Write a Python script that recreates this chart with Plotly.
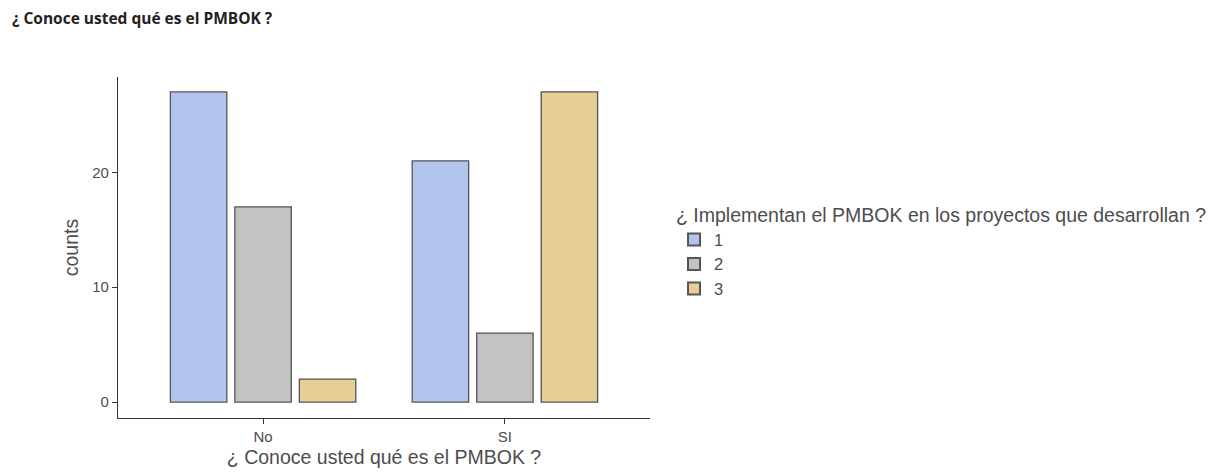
import plotly.graph_objects as go

categories = ["No", "SI"]
groups = ["1", "2", "3"]
counts_1 = [27, 21]
counts_2 = [17, 6]
counts_3 = [2, 27]
colors = ["#B0C4EE", "#C3C3C3", "#E6CE94"]

W, H = 1213, 468
PL, PR, PT, PB = 110, 642, 69, 410  # plot area edges in figure pixels

fig = go.Figure()
for name, vals, col in zip(groups, [counts_1, counts_2, counts_3], colors):
    fig.add_trace(go.Bar(
        x=categories, y=vals, name=name,
        marker=dict(color=col, line=dict(color="#555555", width=1.3)),
    ))

fig.update_layout(
    width=W, height=H,
    barmode="group", bargap=0.2, bargroupgap=0.125,
    plot_bgcolor="white", paper_bgcolor="white",
    margin=dict(l=PL, r=W - PR, t=PT, b=H - PB, pad=0, autoexpand=False),
    font=dict(family="Liberation Sans, Arial, sans-serif", color="#4d4d4d"),
    title=dict(text="<b>¿ Conoce usted qué es el PMBOK ?</b>", x=4 / W, xanchor="left",
               y=1 - 11 / H, yanchor="middle",
               font=dict(family="Open Sans, sans-serif", size=15.5, color="#222222")),
    legend=dict(
        title=dict(text="¿ Implementan el PMBOK en los proyectos que desarrollan ?",
                   font=dict(size=19.5, color="#4d4d4d"), side="top"),
        x=(666 - PL) / (PR - PL), xanchor="left",
        y=(PB - 189) / (PB - PT), yanchor="top",
        font=dict(size=16.5, color="#4d4d4d"),
        tracegroupgap=0, itemsizing="constant",
        bgcolor="rgba(0,0,0,0)",
    ),
    xaxis=dict(
        range=[-0.6, 1.6], showline=True, linecolor="#333333", linewidth=1.2,
        ticks="outside", ticklen=5, tickcolor="#333333", tickwidth=1.2,
        tickfont=dict(size=15, color="#4d4d4d"),
        title=dict(text="¿ Conoce usted qué es el PMBOK ?", font=dict(size=19.5, color="#4d4d4d"), standoff=6),
        showgrid=False, zeroline=False, automargin=False,
    ),
    yaxis=dict(
        range=[-1.39, 28.3], showline=True, linecolor="#333333", linewidth=1.2,
        ticks="outside", ticklen=5, tickcolor="#333333", tickwidth=1.2,
        tickvals=[0, 10, 20], tickfont=dict(size=15, color="#4d4d4d"),
        title=dict(text="counts", font=dict(size=19.5, color="#4d4d4d"), standoff=8),
        showgrid=False, zeroline=False, automargin=False,
    ),
)

fig.write_html("out.html")
